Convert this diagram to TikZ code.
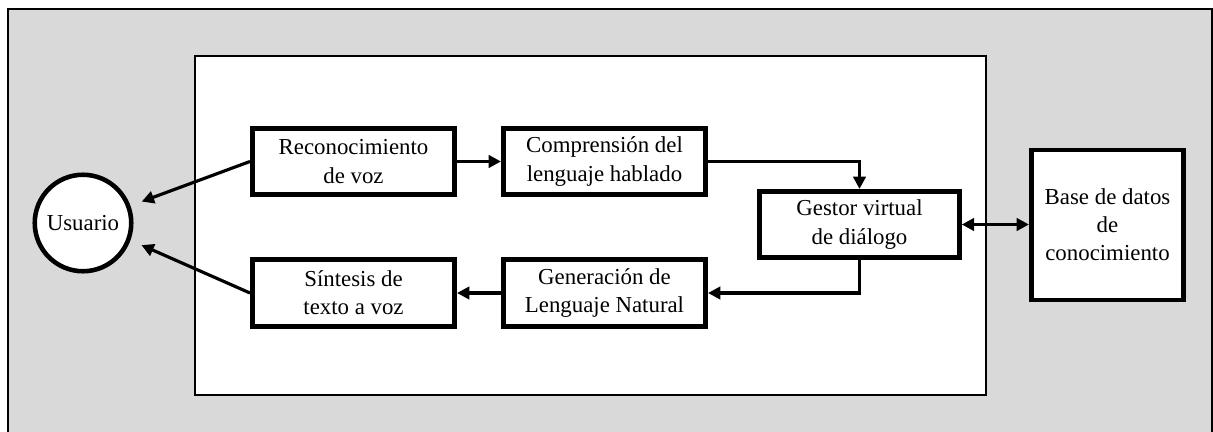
\documentclass[tikz,border=0pt]{standalone}
\usepackage{fontspec}
\setmainfont{Liberation Serif}
\usepackage{tikz}
\usetikzlibrary{arrows.meta,calc}

\definecolor{fondo}{RGB}{217,217,217}

\begin{document}
\begin{tikzpicture}[x=0.02cm, y=-0.02cm,
    bloque/.style={draw, line width=2.6pt, fill=white, align=center,
      minimum width=4.05cm, minimum height=1.33cm, inner sep=2pt,
      font=\fontsize{13}{16}\selectfont},
    flecha/.style={line width=1.8pt, -{Triangle[length=7pt,width=7pt]}},
    flechas/.style={line width=1.8pt, {Triangle[length=7pt,width=7pt]}-{Triangle[length=7pt,width=7pt]}}]
      \useasboundingbox (0,0) rectangle (1213,432);
      \draw[fill=fondo, line width=0.8pt] (8,9) rectangle (1212,440);
      \draw[fill=white, line width=0.8pt] (195,56) rectangle (986,395);

      \node[draw, circle, line width=2.6pt, fill=white, minimum size=1.93cm,
        inner sep=0pt, font=\fontsize{13}{16}\selectfont] (usuario) at (83,223) {Usuario};

      \node[bloque] (reco) at (353.5,161.5) {Reconocimiento\\de voz};
      \node[bloque] (comp) at (604.5,161.5) {Comprensión del\\lenguaje hablado};
      \node[bloque] (sint) at (353.5,293) {Síntesis de\\texto a voz};
      \node[bloque] (gene) at (604.5,293) {Generación de\\Lenguaje Natural};
      \node[bloque, minimum width=4.0cm] (gestor) at (859.5,224.5) {Gestor virtual\\de diálogo};
      \node[bloque, minimum width=3.05cm, minimum height=3.0cm] (base) at (1107.5,225)
        {Base de datos\\de\\conocimiento};

      \draw[flecha, shorten >=0.24cm] (reco.west) -- (usuario.20);
      \draw[flecha, shorten >=0.24cm] (sint.west) -- (usuario.-20);
      \draw[flecha] (reco.east) -- (comp.west);
      \draw[flecha] (comp.east) -| (gestor.north);
      \draw[flecha] (gestor.south) |- (gene.east);
      \draw[flecha] (gene.west) -- (sint.east);
      \draw[flechas] (gestor.east) -- (base.west |- gestor.east);
    \end{tikzpicture}
\end{document}
